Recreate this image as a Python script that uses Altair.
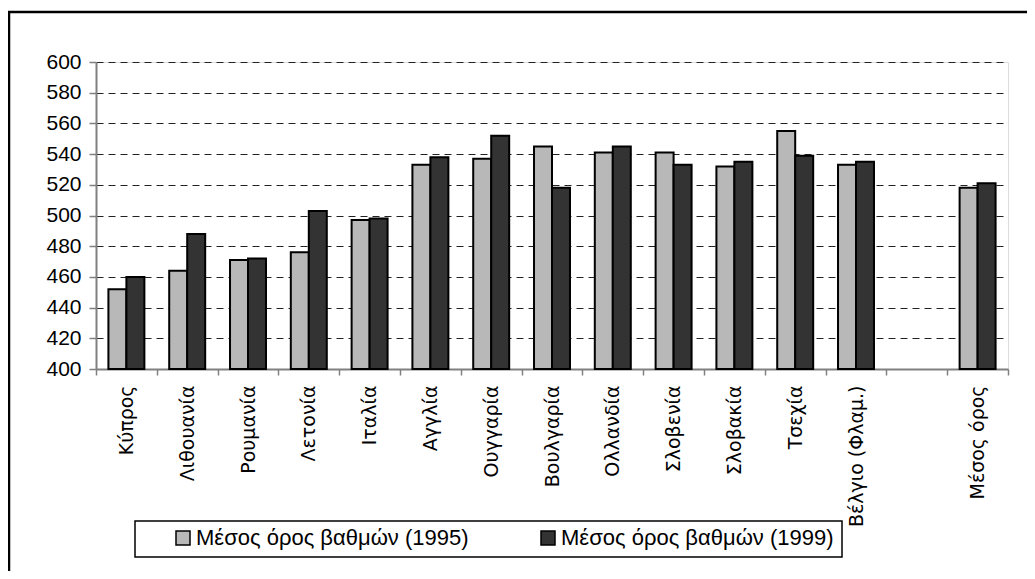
import altair as alt
import pandas as pd

countries = ["Κύπρος", "Λιθουανία", "Ρουμανία", "Λετονία", "Ιταλία", "Αγγλία",
             "Ουγγαρία", "Βουλγαρία", "Ολλανδία", "Σλοβενία", "Σλοβακία",
             "Τσεχία", "Βέλγιο (Φλαμ.)", " ", "Μέσος όρος"]
scores_1995 = [452, 464, 471, 476, 497, 533, 537, 545, 541, 541, 532, 555, 533, None, 518]
scores_1999 = [460, 488, 472, 503, 498, 538, 552, 518, 545, 533, 535, 539, 535, None, 521]
series = ["Μέσος όρος βαθμών (1995)", "Μέσος όρος βαθμών (1999)"]
y_ticks = list(range(400, 601, 20))

rows = []
for c, a, b in zip(countries, scores_1995, scores_1999):
    if a is not None:
        rows.append({"country": c, "series": series[0], "score": a})
    if b is not None:
        rows.append({"country": c, "series": series[1], "score": b})
df = pd.DataFrame(rows)

bars = alt.Chart(df).mark_bar(stroke="black", strokeWidth=2).encode(
    x=alt.X("country:N", sort=countries,
            scale=alt.Scale(domain=countries, paddingInner=0, paddingOuter=0),
            axis=alt.Axis(title=None, labelAngle=-90, labelAlign="right", labelBaseline="middle",
                          labelFont="DejaVu Sans", labelFontSize=19, labelColor="black",
                          tickBand="extent", tickSize=6, tickColor="#808080", tickWidth=1.5,
                          domainColor="#808080", domainWidth=2, labelPadding=10, grid=False,
                          labelLimit=300)),
    xOffset=alt.XOffset("series:N", sort=series,
                        scale=alt.Scale(domain=series, paddingInner=0, paddingOuter=0.69)),
    y=alt.Y("score:Q",
            scale=alt.Scale(domain=[400, 600], nice=False, zero=False),
            axis=alt.Axis(title=None, values=y_ticks, grid=True, gridDash=[7, 5],
                          gridColor="#222222", gridWidth=1, domainColor="#808080", domainWidth=2,
                          tickColor="#808080", tickSize=7, tickWidth=1.5,
                          labelFont="Liberation Sans", labelFontSize=21, labelColor="black",
                          labelPadding=8)),
    y2=alt.datum(400),
    color=alt.Color("series:N", sort=series,
                    scale=alt.Scale(domain=series, range=["#b8b8b8", "#333333"]),
                    legend=alt.Legend(title=None, orient="none", legendX=76, legendY=465,
                                      direction="horizontal", padding=0,
                                      symbolType="square", symbolSize=196,
                                      symbolStrokeColor="black", symbolStrokeWidth=1.5,
                                      labelFont="Liberation Sans", labelFontSize=22,
                                      labelColor="black", labelLimit=400,
                                      columnPadding=68, labelOffset=2)),
)

frame = alt.Chart(pd.DataFrame({"f": [0]})).mark_rect(
    fill=None, stroke="black", strokeWidth=2.5
).encode(x=alt.value(-87), x2=alt.value(1100), y=alt.value(-50), y2=alt.value(700))

legend_box = alt.Chart(pd.DataFrame({"f": [0]})).mark_rect(
    fill="white", stroke="black", strokeWidth=1.5
).encode(x=alt.value(39), x2=alt.value(746), y=alt.value(459), y2=alt.value(495))

chart = alt.layer(frame, legend_box, bars).properties(
    width=912, height=307,
    padding={"left": 88, "top": 54, "right": 19, "bottom": 202},
    autosize=alt.AutoSizeParams(type="none"),
).configure_view(stroke="#808080", strokeWidth=2).configure(background="white")

chart.save("out.html", embed_options={"renderer": "svg", "actions": False})
